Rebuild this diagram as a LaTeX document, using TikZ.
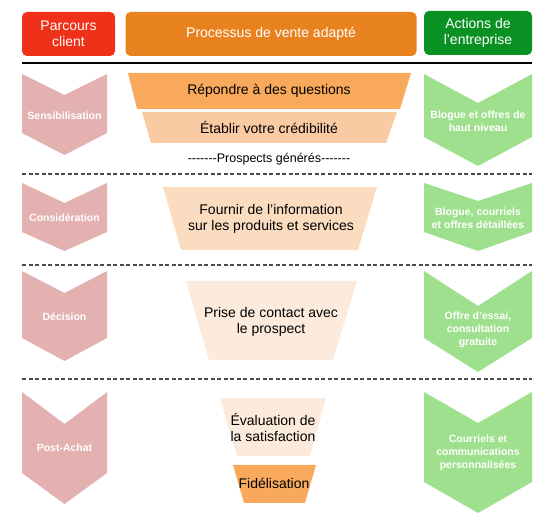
\documentclass[tikz,border=0pt]{standalone}
\usepackage{fontspec}
\setmainfont{Liberation Sans}

\definecolor{parcoursred}{RGB}{238,49,24}
\definecolor{venteorange}{RGB}{232,130,30}
\definecolor{actionsgreen}{RGB}{10,145,35}
\definecolor{chevpink}{RGB}{227,177,175}
\definecolor{chevgreen}{RGB}{158,224,141}
\definecolor{funnelA}{RGB}{248,169,92}
\definecolor{funnelB}{RGB}{250,202,163}
\definecolor{funnelC}{RGB}{251,220,192}
\definecolor{funnelD}{RGB}{252,235,220}

\newcommand{\hyphrun}{-\kern0pt-\kern0pt-\kern0pt-\kern0pt-\kern0pt-\kern0pt-}

\begin{document}
\begin{tikzpicture}[x=1pt,y=-1pt]
    \begin{scope}[
        head/.style={text=white,font=\fontsize{14}{16}\selectfont,align=center,rounded corners=5pt,minimum height=44pt,inner sep=0pt},
        chevtext/.style={text=white,font=\fontsize{10.5}{13}\selectfont\bfseries,align=center},
        stage/.style={font=\fontsize{14}{16}\selectfont,align=center},
        sep/.style={dash pattern=on 4pt off 2.5pt,line width=1.2pt,black!70}]

    \useasboundingbox (0,0) rectangle (555,521);

    % headers
    \node[head,fill=parcoursred,minimum width=93pt] (parcours) at (68.5,34) {Parcours\\client};
    \node[head,fill=venteorange,minimum width=291pt] (processus) at (271,34) {Processus de vente adapté};
    \node[head,fill=actionsgreen,minimum width=108pt] (actions) at (478,33) {Actions de\\l’entreprise};

    \draw [line width=2pt] (22,63) -- (532,63);

    % separators
    \draw [sep] (22,174) -- (532,174);
    \draw [sep] (22,265) -- (532,265);
    \draw [sep] (22,379) -- (532,379);

    % parcours client
    \fill[chevpink] (22,74) -- (64.5,95) -- (107,74) -- (107,133) -- (64.5,155) -- (22,133) -- cycle;
    \fill[chevpink] (22,183) -- (64.5,203) -- (107,183) -- (107,232) -- (64.5,251) -- (22,232) -- cycle;
    \fill[chevpink] (22,271) -- (64.5,293) -- (107,271) -- (107,338) -- (64.5,361) -- (22,338) -- cycle;
    \fill[chevpink] (22,392) -- (64.5,424) -- (107,392) -- (107,473) -- (64.5,504) -- (22,473) -- cycle;

    \node[chevtext] (sensib) at (64.5,116) {Sensibilisation};
    \node[chevtext] (consid) at (64.5,218) {Considération};
    \node[chevtext] (decision) at (64.5,317) {Décision};
    \node[chevtext] (postachat) at (64.5,448) {Post-Achat};

    % processus de vente
    \fill[funnelA] (128,73) -- (411,73) -- (400,109) -- (137,109) -- cycle;
    \fill[funnelB] (142,112) -- (397,112) -- (386,143) -- (151,143) -- cycle;
    \fill[funnelC] (163,187) -- (377,187) -- (358,250) -- (181,250) -- cycle;
    \fill[funnelD] (186,281) -- (357,281) -- (333,360) -- (209,360) -- cycle;
    \fill[funnelD] (220,398) -- (326,398) -- (310,456) -- (237,456) -- cycle;
    \fill[funnelA] (233,465) -- (316,465) -- (305,503) -- (244,503) -- cycle;

    \node[stage] (repondre) at (269,91) {Répondre à des questions};
    \node[stage] (etablir) at (269,128) {Établir votre crédibilité};
    \node[font=\fontsize{12.5}{15}\selectfont] (prospects) at (269,159) {\hyphrun Prospects générés\hyphrun};
    \node[stage] (fournir) at (271,218.5) {Fournir de l’information\\sur les produits et services};
    \node[stage] (prise) at (271,321.5) {Prise de contact avec\\le prospect};
    \node[stage] (evaluation) at (273,427) {Évaluation de\\la satisfaction};
    \node[stage] (fidelisation) at (274,483) {Fidélisation};

    % actions de l'entreprise
    \fill[chevgreen] (424,74) -- (478,103) -- (532,74) -- (532,137) -- (478,166) -- (424,137) -- cycle;
    \fill[chevgreen] (424,183) -- (478,201) -- (532,183) -- (532,232) -- (478,251) -- (424,232) -- cycle;
    \fill[chevgreen] (424,271) -- (478,306) -- (532,271) -- (532,338) -- (478,372) -- (424,338) -- cycle;
    \fill[chevgreen] (424,392) -- (478,423) -- (532,392) -- (532,482) -- (478,513) -- (424,482) -- cycle;

    \node[chevtext] (blogue) at (478,121) {Blogue et offres de\\haut niveau};
    \node[chevtext] (courriels) at (478,218.5) {Blogue, courriels\\et offres détaillées};
    \node[chevtext] (offre) at (478,330) {Offre d’essai,\\consultation\\gratuite};
    \node[chevtext] (communic) at (478,452.5) {Courriels et\\communications\\personnalisées};

    \end{scope}
\end{tikzpicture}
\end{document}
